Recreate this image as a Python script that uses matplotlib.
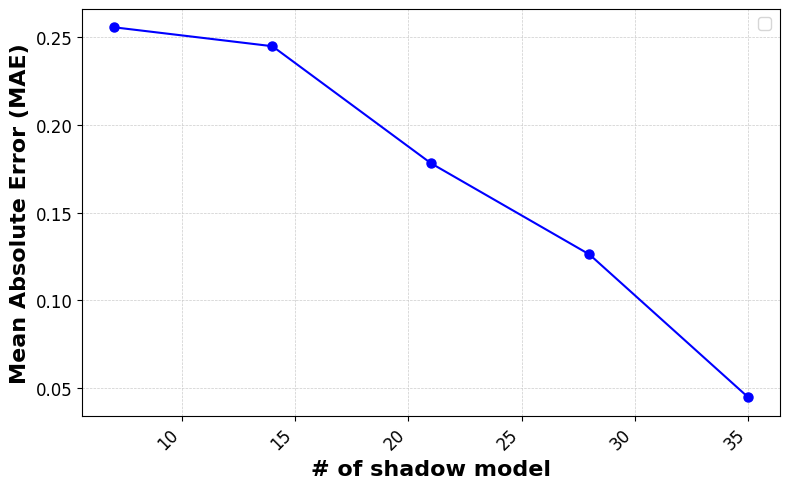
import matplotlib
matplotlib.use("Agg")
import matplotlib.pyplot as plt

num_shadow = [7, 14, 21, 28, 35]
mae = [0.2557, 0.2449, 0.1782, 0.1262, 0.0449]

fig, ax = plt.subplots(figsize=(7.9, 4.89), dpi=100)
fig.subplots_adjust(left=0.104, right=0.987, top=0.980, bottom=0.148)
ax.plot(num_shadow, mae, marker="o", markersize=6.5, color="blue", linestyle="-")

ax.set_xlabel("# of shadow model", fontsize=16, fontweight="bold")
ax.set_ylabel("Mean Absolute Error (MAE)", fontsize=16, fontweight="bold")
ax.tick_params(axis="both", labelsize=12)
plt.setp(ax.get_xticklabels(), rotation=45, ha="right")
ax.grid(True, linestyle="--", linewidth=0.5, color="#cccccc")
ax.legend(fontsize=12)

fig.savefig("out.png", dpi=100)
